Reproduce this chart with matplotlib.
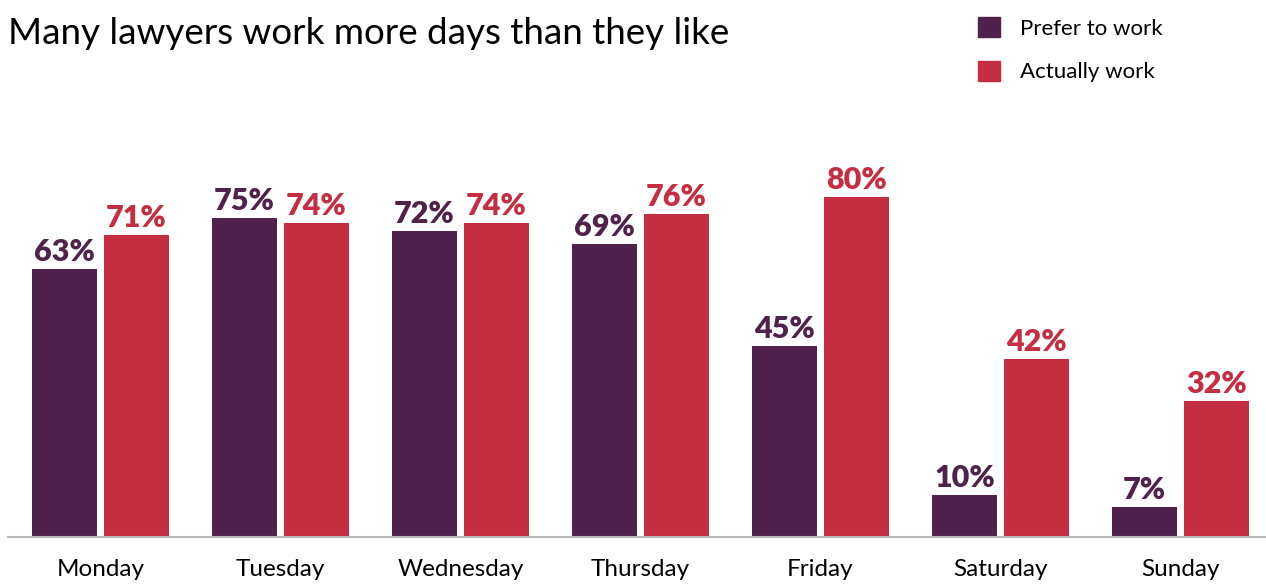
import matplotlib.pyplot as plt
import matplotlib
import numpy as np
from matplotlib.patches import Patch

matplotlib.rcParams.update({
    'font.family': ['Lato', 'DejaVu Sans'],
    'figure.dpi': 100,
})

days = ['Monday', 'Tuesday', 'Wednesday', 'Thursday', 'Friday', 'Saturday', 'Sunday']
prefer = [63, 75, 72, 69, 45, 10, 7]
actual = [71, 74, 74, 76, 80, 42, 32]

PURPLE = '#4F214B'
RED = '#C42E40'

W, H = 1266, 584
fig = plt.figure(figsize=(W / 100, H / 100))
ax = fig.add_axes([8 / W, 47 / H, 1258 / W, 425 / H])

x = np.arange(len(days))
width = 0.361
ax.bar(x - 0.2, prefer, width, color=PURPLE)
ax.bar(x + 0.2, actual, width, color=RED)

for xi, p, a in zip(x, prefer, actual):
    ax.annotate(f'{p}%', xy=(xi - 0.2, p), xytext=(0, 2), textcoords='offset points',
                ha='center', va='bottom', fontsize=22, fontweight='heavy', color=PURPLE)
    ax.annotate(f'{a}%', xy=(xi + 0.2, a), xytext=(0, 2), textcoords='offset points',
                ha='center', va='bottom', fontsize=22, fontweight='heavy', color=RED)

ax.set_xlim(-0.514, 6.475)
ax.set_ylim(0, 100)
ax.set_xticks(x)
ax.set_xticklabels(days, fontsize=17.5)
ax.tick_params(axis='x', length=0, pad=16)
ax.set_yticks([])
for side in ['top', 'right', 'left']:
    ax.spines[side].set_visible(False)
ax.spines['bottom'].set_color('#b8b8b8')
ax.spines['bottom'].set_linewidth(1.5)

fig.text(8 / W, 1 - 33 / H, 'Many lawyers work more days than they like',
         fontsize=26.5, va='center', ha='left', color='black')

handles = [Patch(color=PURPLE), Patch(color=RED)]
fig.legend(handles, ['Prefer to work', 'Actually work'], loc='upper left',
           bbox_to_anchor=(958 / W, 1 + 3 / H), frameon=False, fontsize=16,
           handlelength=1.0, handleheight=1.0, handletextpad=0.9, labelspacing=1.0)

fig.savefig('out.png', dpi=100)
